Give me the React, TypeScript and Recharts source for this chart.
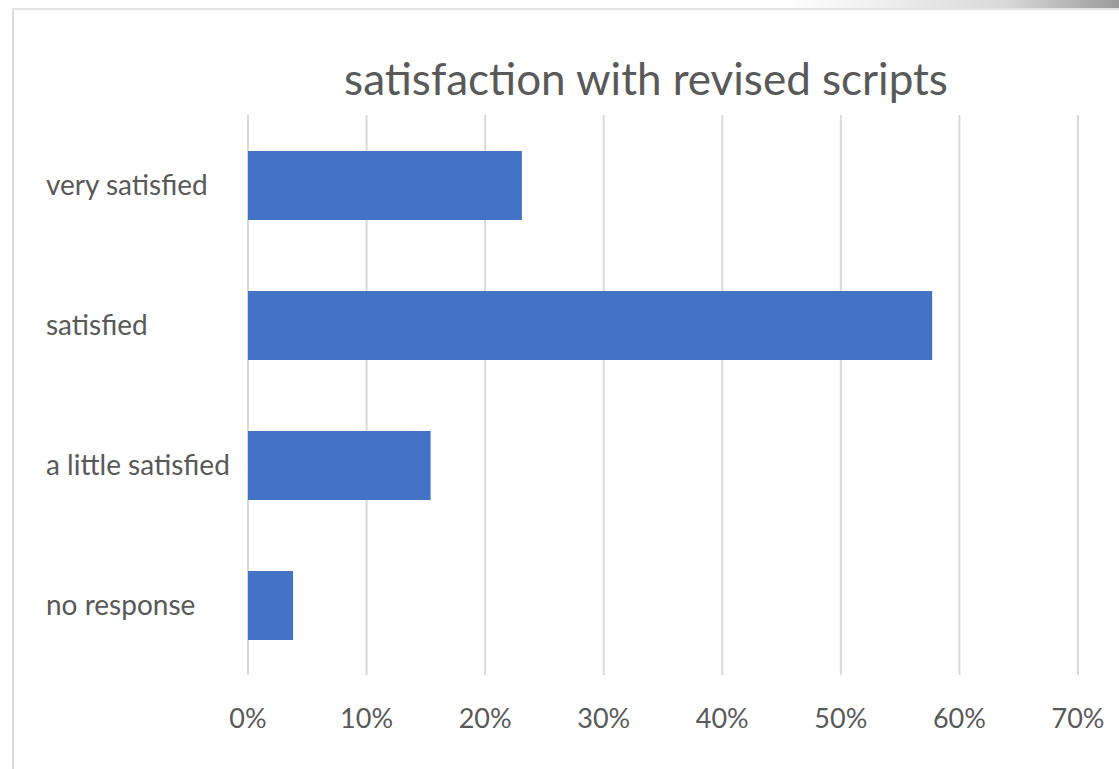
import { BarChart, Bar, CartesianGrid, XAxis, YAxis } from "recharts";

const categories = ["very satisfied", "satisfied", "a little satisfied", "no response"];
const shares = [0.231, 0.577, 0.154, 0.038];
const xTicks = [0, 0.1, 0.2, 0.3, 0.4, 0.5, 0.6, 0.7];

const data = categories.map((name, i) => ({ name, value: shares[i] }));

const FONT = "Lato, 'Open Sans', sans-serif";
const TEXT = "#595959";

function CategoryTick(props: any) {
  const { y, payload } = props;
  return (
    <text x={46} y={y} dy={10} textAnchor="start" fill={TEXT} fontSize={28} fontFamily={FONT}>
      {payload.value}
    </text>
  );
}

export default function App() {
  return (
    <div style={{ position: "absolute", left: 0, top: 0, width: 1119, height: 769, background: "#fff", overflow: "hidden" }}>
      <div
        style={{
          position: "absolute",
          left: 12,
          top: 0,
          width: 1107,
          height: 8,
          background: "linear-gradient(to right, #fff 0%, #fff 70%, #d8d8d8 90%, #9a9a9a 100%)",
        }}
      />
      <div
        style={{
          position: "absolute",
          left: 12,
          top: 8,
          width: 1107,
          height: 761,
          borderLeft: "2px solid #dcdcdc",
          borderTop: "2px solid #e4e4e4",
          boxSizing: "border-box",
        }}
      />
      <div
        style={{
          position: "absolute",
          left: 248,
          width: 796,
          top: 48,
          textAlign: "center",
          fontFamily: FONT,
          fontSize: 44,
          color: TEXT,
          lineHeight: "60px",
        }}
      >
        satisfaction with revised scripts
      </div>
      <div style={{ position: "absolute", left: 0, top: 0 }}>
        <BarChart
          width={1119}
          height={769}
          data={data}
          layout="vertical"
          margin={{ top: 115, right: 41, bottom: 34, left: 0 }}
        >
          <CartesianGrid horizontal={false} stroke="#d9d9d9" strokeWidth={2} />
          <XAxis
            type="number"
            domain={[0, 0.7]}
            ticks={xTicks}
            tickFormatter={(v: number) => `${Math.round(v * 100)}%`}
            axisLine={false}
            tickLine={false}
            tickMargin={28}
            height={60}
            tick={{ fill: TEXT, fontSize: 27, fontFamily: FONT }}
          />
          <YAxis
            type="category"
            dataKey="name"
            width={248}
            axisLine={false}
            tickLine={false}
            tick={<CategoryTick />}
          />
          <Bar dataKey="value" fill="#4472C4" barSize={69} isAnimationActive={false} />
        </BarChart>
      </div>
    </div>
  );
}
